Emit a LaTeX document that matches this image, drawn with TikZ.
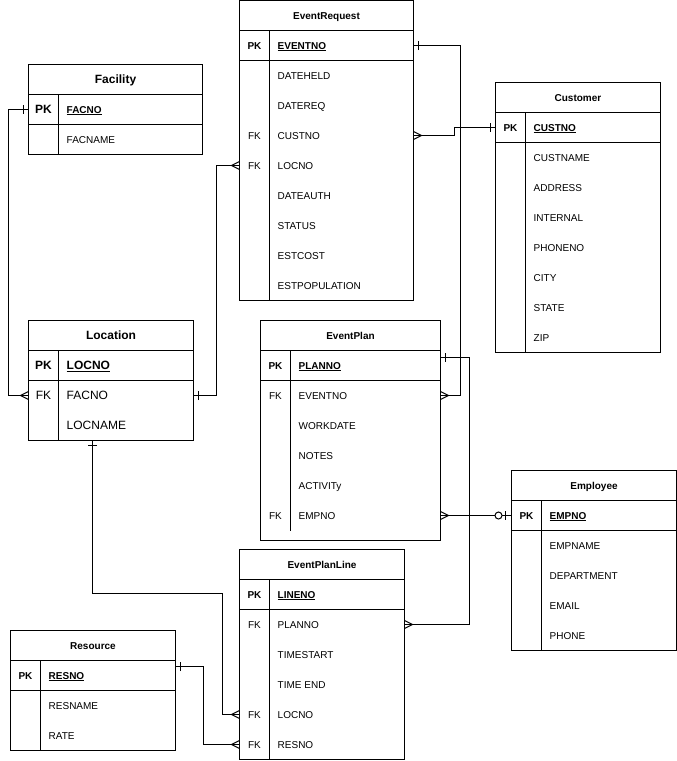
\documentclass[tikz,border=0pt]{standalone}
\usepackage{fontspec}
\setmainfont{Liberation Sans}
\usetikzlibrary{arrows.meta, positioning}

% crow's foot ends
\pgfdeclarearrow{
  name = ERmany,
  parameters = {\the\pgfarrowlength,\the\pgfarrowwidth},
  setup code = {
    \pgfarrowssettipend{0pt}
    \pgfarrowssetlineend{0pt}
    \pgfarrowssetbackend{-\pgfarrowlength}
    \pgfarrowssavethe\pgfarrowlength
    \pgfarrowssavethe\pgfarrowwidth
  },
  drawing code = {
    \pgfpathmoveto{\pgfqpoint{0pt}{.5\pgfarrowwidth}}
    \pgfpathlineto{\pgfqpoint{-\pgfarrowlength}{0pt}}
    \pgfpathlineto{\pgfqpoint{0pt}{-.5\pgfarrowwidth}}
    \pgfusepathqstroke
  },
  defaults = {length=8pt, width=8pt}
}
\pgfdeclarearrow{
  name = ERone,
  parameters = {\the\pgfarrowlength,\the\pgfarrowwidth},
  setup code = {
    \pgfarrowssettipend{0pt}
    \pgfarrowssetlineend{0pt}
    \pgfarrowssetbackend{-\pgfarrowlength}
    \pgfarrowssavethe\pgfarrowlength
    \pgfarrowssavethe\pgfarrowwidth
  },
  drawing code = {
    \pgfpathmoveto{\pgfqpoint{-\pgfarrowlength}{.5\pgfarrowwidth}}
    \pgfpathlineto{\pgfqpoint{-\pgfarrowlength}{-.5\pgfarrowwidth}}
    \pgfusepathqstroke
  },
  defaults = {length=5pt, width=9pt}
}
\pgfdeclarearrow{
  name = ERzeroone,
  setup code = {
    \pgfarrowssettipend{0pt}
    \pgfarrowssetlineend{0pt}
    \pgfarrowssetbackend{-17pt}
  },
  drawing code = {
    \pgfpathmoveto{\pgfqpoint{-6pt}{4.5pt}}
    \pgfpathlineto{\pgfqpoint{-6pt}{-4.5pt}}
    \pgfusepathqstroke
    \pgfpathcircle{\pgfqpoint{-13pt}{0pt}}{3.5pt}
    \pgfsetfillcolor{white}
    \pgfusepathqfillstroke
  }
}

\begin{document}
\begin{tikzpicture}[
  x=1pt, y=-1pt,
  tbl/.style={draw, line width=1pt, outer sep=0pt, inner sep=0pt,
              minimum width=#1, minimum height=30pt},
  ttl/.style={tbl=#1, font=\fontsize{10}{12}\selectfont\bfseries,
              text height=7.2pt, text depth=0pt},
  bigttl/.style={ttl=#1, font=\fontsize{12}{14}\selectfont\bfseries,
                 text height=8.6pt},
  fld/.style={anchor=west, inner sep=0pt, font=\fontsize{10}{12}\selectfont,
              text height=7.2pt, text depth=0pt},
  fldb/.style={fld, font=\fontsize{10}{12}\selectfont\bfseries},
  bigfld/.style={fld, font=\fontsize{12}{14}\selectfont, text height=8.6pt},
  bigfldb/.style={bigfld, font=\fontsize{12}{14}\selectfont\bfseries},
  key/.style={fld, anchor=center},
  keyb/.style={fldb, anchor=center},
  bigkey/.style={bigfld, anchor=center},
  bigkeyb/.style={bigfldb, anchor=center},
  sep/.style={line width=1pt},
  rel/.style={line width=1pt},
]
  \useasboundingbox (0,0) rectangle (677,761);

  % EventRequest
  \node[ttl=174] (er) at (326.5,15.5) {EventRequest};
  \node[tbl=174, below=0pt of er] (erpk) {};
  \node[tbl=174, minimum height=240pt, below=0pt of erpk] (erbody) {};
  \draw[sep] ([xshift=30pt]erpk.north west) -- ([xshift=30pt]erbody.south west);
  \node[keyb] (erpkk) at (254.5,45.5) {PK};
  \node[fldb] (erpkf) at (277.5,45.5) {\underline{EVENTNO}};
  \foreach \f [count=\i] in {DATEHELD,DATEREQ,CUSTNO,LOCNO,DATEAUTH,STATUS,ESTCOST,ESTPOPULATION}
    \node[fld] (erf\i) at (277.5,45.5+30*\i) {\f};
  \foreach \i in {3,4}
    \node[key] (erfk\i) at (254.5,45.5+30*\i) {FK};

  % Facility
  \node[bigttl=174] (fac) at (115.5,79.5) {Facility};
  \node[tbl=174, below=0pt of fac] (facpk) {};
  \node[tbl=174, below=0pt of facpk] (facbody) {};
  \draw[sep] ([xshift=30pt]facpk.north west) -- ([xshift=30pt]facbody.south west);
  \node[bigkeyb] (facpkk) at (43.5,109.5) {PK};
  \node[fldb] (facpkf) at (66.5,109.5) {\underline{FACNO}};
  \node[fld] (facf1) at (66.5,139.5) {FACNAME};

  % Customer
  \node[ttl=165] (cus) at (578,97.5) {Customer};
  \node[tbl=165, below=0pt of cus] (cuspk) {};
  \node[tbl=165, minimum height=210pt, below=0pt of cuspk] (cusbody) {};
  \draw[sep] ([xshift=30pt]cuspk.north west) -- ([xshift=30pt]cusbody.south west);
  \node[keyb] (cuspkk) at (510.5,127.5) {PK};
  \node[fldb] (cuspkf) at (533.5,127.5) {\underline{CUSTNO}};
  \foreach \f [count=\i] in {CUSTNAME,ADDRESS,INTERNAL,PHONENO,CITY,STATE,ZIP}
    \node[fld] (cusf\i) at (533.5,127.5+30*\i) {\f};

  % Location
  \node[bigttl=165] (loc) at (111,335.5) {Location};
  \node[tbl=165, below=0pt of loc] (locpk) {};
  \node[tbl=165, minimum height=60pt, below=0pt of locpk] (locbody) {};
  \draw[sep] ([xshift=30pt]locpk.north west) -- ([xshift=30pt]locbody.south west);
  \node[bigkeyb] (locpkk) at (43.5,365.5) {PK};
  \node[bigfldb] (locpkf) at (66.5,365.5) {\underline{LOCNO}};
  \node[bigkey] (locfk1) at (43.5,395.5) {FK};
  \node[bigfld] (locf1) at (66.5,395.5) {FACNO};
  \node[bigfld] (locf2) at (66.5,425.5) {LOCNAME};

  % EventPlan
  \node[ttl=180] (ep) at (350.5,335.5) {EventPlan};
  \node[tbl=180, below=0pt of ep] (eppk) {};
  \node[tbl=180, minimum height=160pt, below=0pt of eppk] (epbody) {};
  \draw[sep] ([xshift=30pt]eppk.north west) -- ([xshift=30pt,yshift=10pt]epbody.south west);
  \node[keyb] (eppkk) at (275.5,365.5) {PK};
  \node[fldb] (eppkf) at (298.5,365.5) {\underline{PLANNO}};
  \foreach \f [count=\i] in {EVENTNO,WORKDATE,NOTES,ACTIVITy,EMPNO}
    \node[fld] (epf\i) at (298.5,365.5+30*\i) {\f};
  \foreach \i in {1,5}
    \node[key] (epfk\i) at (275.5,365.5+30*\i) {FK};

  % Employee
  \node[ttl=165] (emp) at (594,485.5) {Employee};
  \node[tbl=165, below=0pt of emp] (emppk) {};
  \node[tbl=165, minimum height=120pt, below=0pt of emppk] (empbody) {};
  \draw[sep] ([xshift=30pt]emppk.north west) -- ([xshift=30pt]empbody.south west);
  \node[keyb] (emppkk) at (526.5,515.5) {PK};
  \node[fldb] (emppkf) at (549.5,515.5) {\underline{EMPNO}};
  \foreach \f [count=\i] in {EMPNAME,DEPARTMENT,EMAIL,PHONE}
    \node[fld] (empf\i) at (549.5,515.5+30*\i) {\f};

  % EventPlanLine
  \node[ttl=165] (epl) at (322,564.5) {EventPlanLine};
  \node[tbl=165, below=0pt of epl] (eplpk) {};
  \node[tbl=165, minimum height=150pt, below=0pt of eplpk] (eplbody) {};
  \draw[sep] ([xshift=30pt]eplpk.north west) -- ([xshift=30pt]eplbody.south west);
  \node[keyb] (eplpkk) at (254.5,594.5) {PK};
  \node[fldb] (eplpkf) at (277.5,594.5) {\underline{LINENO}};
  \foreach \f [count=\i] in {PLANNO,TIMESTART,TIME END,LOCNO,RESNO}
    \node[fld] (eplf\i) at (277.5,594.5+30*\i) {\f};
  \foreach \i in {1,4,5}
    \node[key] (eplfk\i) at (254.5,594.5+30*\i) {FK};

  % Resource
  \node[ttl=165] (res) at (93,645.5) {Resource};
  \node[tbl=165, below=0pt of res] (respk) {};
  \node[tbl=165, minimum height=60pt, below=0pt of respk] (resbody) {};
  \draw[sep] ([xshift=30pt]respk.north west) -- ([xshift=30pt]resbody.south west);
  \node[keyb] (respkk) at (25.5,675.5) {PK};
  \node[fldb] (respkf) at (48.5,675.5) {\underline{RESNO}};
  \node[fld] (resf1) at (48.5,705.5) {RESNAME};
  \node[fld] (resf2) at (48.5,735.5) {RATE};

  % relationships
  \draw[rel, {ERone}-{ERmany}] (fac.west |- facpkf) -- ++(-20.5,0) |- (loc.west |- locf1);
  \draw[rel, {ERone}-{ERmany}] (loc.east |- locf1) -- ++(23,0) |- (er.west |- erf4);
  \draw[rel, {ERone}-{ERmany}] (er.east |- erpkf) -- ++(47,0) |- (ep.east |- epf1);
  \draw[rel, {ERmany}-{ERone}] (er.east |- erf3) -- ++(41,0) |- (cus.west |- cuspkf);
  \draw[rel, {ERone}-{ERmany}] ([yshift=-6.5pt]ep.south east) -- ++(29,0) |- (epl.east |- eplf1);
  \draw[rel, {ERmany}-{ERzeroone}] (ep.east |- epf5) -- (emp.west |- emppkf);
  \draw[rel, {ERone}-{ERmany}] ([xshift=-18.5pt]locbody.south) -- ++(0,153) -- ++(129.5,0) |- (epl.west |- eplf4);
  \draw[rel, {ERone}-{ERmany}] ([yshift=-6pt]res.south east) -- ++(28,0) |- (epl.west |- eplf5);
\end{tikzpicture}
\end{document}
